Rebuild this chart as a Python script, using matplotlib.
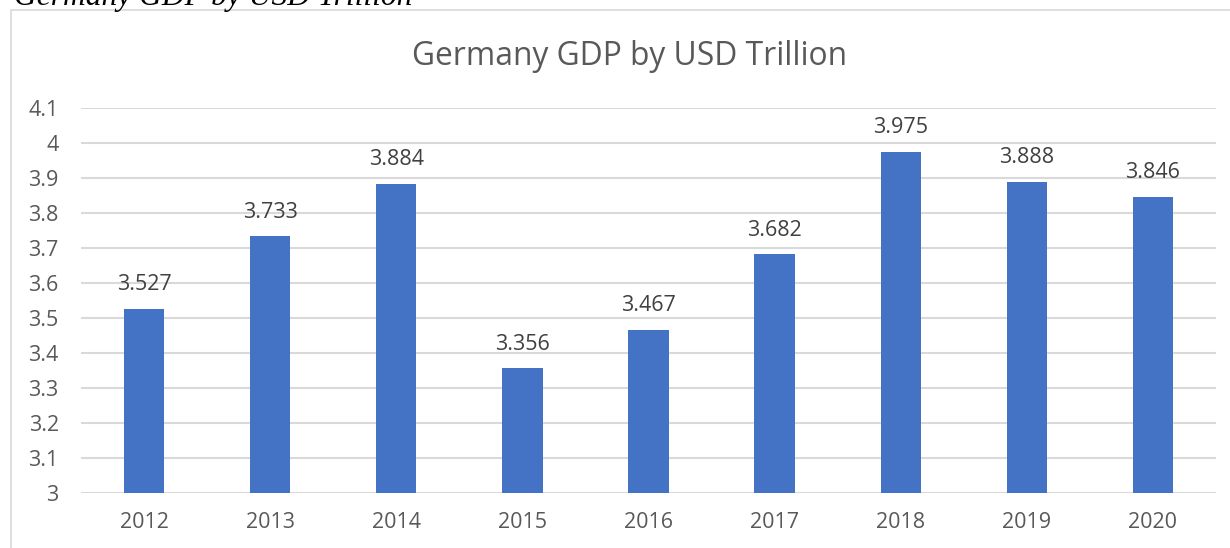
import matplotlib
matplotlib.use("Agg")
import matplotlib.pyplot as plt
from matplotlib.patches import Rectangle

years = ["2012", "2013", "2014", "2015", "2016", "2017", "2018", "2019", "2020"]
gdp_trillion = [3.527, 3.733, 3.884, 3.356, 3.467, 3.682, 3.975, 3.888, 3.846]
y_ticks = [3.0, 3.1, 3.2, 3.3, 3.4, 3.5, 3.6, 3.7, 3.8, 3.9, 4.0, 4.1]
y_tick_labels = ["3", "3.1", "3.2", "3.3", "3.4", "3.5", "3.6", "3.7", "3.8", "3.9", "4", "4.1"]

W, H, DPI = 1230, 548, 100
fig = plt.figure(figsize=(W / DPI, H / DPI), dpi=DPI)
fig.patch.set_facecolor("white")

px = lambda v: v / W
py = lambda v: 1 - v / H

# caption above the chart frame (partly clipped at the top edge)
fig.text(px(14), py(5), "Germany GDP by USD Trillion", family="Liberation Serif",
         style="italic", fontsize=22.7, color="black", ha="left", va="baseline")

# chart frame
fig.patches.append(Rectangle((px(11), py(600)), px(1300), (600 - 9.5) / H,
                             transform=fig.transFigure, fill=False,
                             edgecolor="#D9D9D9", linewidth=1.2))

ax = fig.add_axes([px(81), py(493), px(1216 - 81), (493 - 108) / H])
x = range(len(years))
bars = ax.bar(x, [v - 3.0 for v in gdp_trillion], bottom=3.0, width=0.32,
              color="#4472C4", zorder=3)

ax.set_ylim(3.0, 4.1)
ax.set_xlim(-0.5, len(years) - 0.5)
ax.set_yticks(y_ticks)
ax.set_yticklabels(y_tick_labels)
ax.set_xticks(list(x))
ax.set_xticklabels(years)
ax.yaxis.grid(True, color="#D9D9D9", linewidth=1.5, zorder=0)
ax.set_axisbelow(True)
for s in ax.spines.values():
    s.set_visible(False)
ax.tick_params(length=0, labelcolor="#595959", labelsize=15.5)
ax.tick_params(axis="y", pad=16)
ax.tick_params(axis="x", pad=14)
for lab in ax.get_xticklabels() + ax.get_yticklabels():
    lab.set_family("Open Sans")

for xi, v in zip(x, gdp_trillion):
    ax.annotate(f"{v:.3f}", xy=(xi, v), xytext=(0, 13.5), textcoords="offset points",
                ha="center", va="baseline", fontsize=15.5, color="#404040",
                family="Open Sans")

fig.text(px(630), py(65), "Germany GDP by USD Trillion", family="Open Sans",
         fontsize=22.9, color="#595959", ha="center", va="baseline")

fig.savefig("out.png", dpi=DPI)
